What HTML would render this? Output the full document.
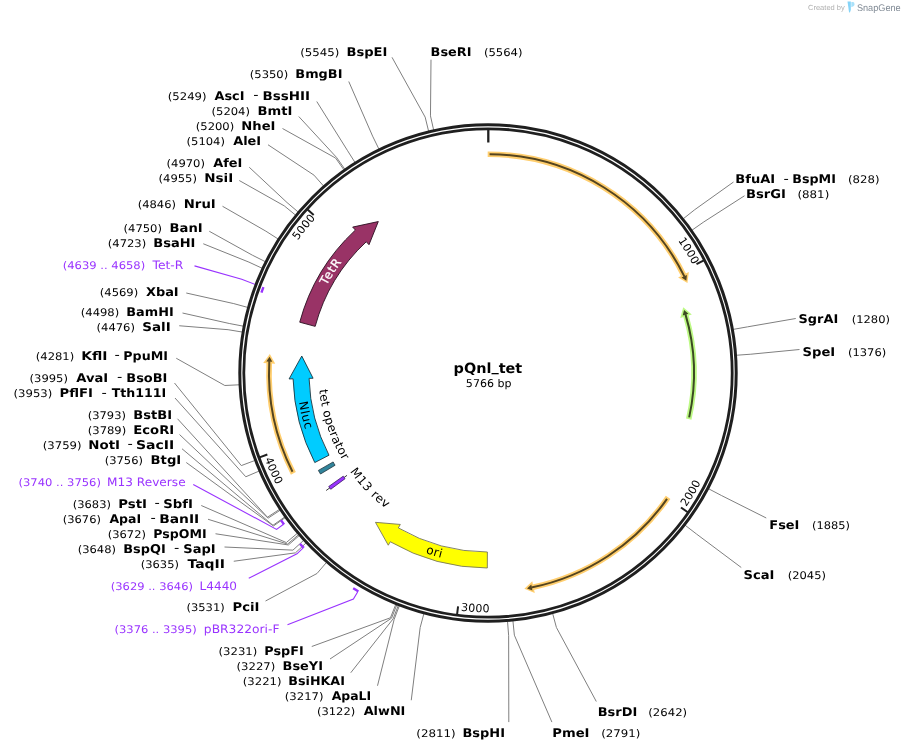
<!DOCTYPE html>
<html lang="en">
<head>
<meta charset="utf-8">
<title>pQnl_tet plasmid map</title>
<style>
html,body{margin:0;padding:0;background:#ffffff;}
body{width:905px;height:752px;overflow:hidden;}
svg{display:block;will-change:transform;text-rendering:geometricPrecision;}
text{white-space:pre;}
</style>
</head>
<body>
<svg width="905" height="752" viewBox="0 0 905 752" font-family='"DejaVu Sans", "Liberation Sans", sans-serif'>
<defs>
<path id="tk1000" d="M678.06,240.48 A231.7,231.7 0 0 1 692.93,264.89"/>
<path id="tk2000" d="M686.2,507.09 A239.3,239.3 0 0 0 700.78,482.5"/>
<path id="tk3000" d="M460.85,610.75 A239.3,239.3 0 0 0 489.39,612.3"/>
<path id="tk4000" d="M264.67,458.95 A239.3,239.3 0 0 0 276.51,484.97"/>
<path id="tk5000" d="M297.87,240.58 A231.7,231.7 0 0 1 315.62,218.18"/>
<path id="fl_tetr" d="M326.5,285.68 A183.6,183.6 0 0 1 341.56,262.25"/>
<path id="fl_nluc" d="M298.93,402.1 A191.3,191.3 0 0 0 305.26,429.57"/>
<path id="fl_ori" d="M425.48,553.05 A190.6,190.6 0 0 0 441.24,557.78"/>
<path id="fl_teto" d="M319.24,389.84 A169.6,169.6 0 0 0 342.7,460.48"/>
<path id="fl_m13" d="M349.93,471.49 A169.6,169.6 0 0 0 385.93,508.45"/>
</defs>
<g fill="none" stroke="#7f7f7f" stroke-width="1">
<polyline points="392,57.3 425.15,117.1 428.59,131.09"/>
<polyline points="348.75,81.5 372.6,136.11 378.91,149.06"/>
<polyline points="316.75,101.5 347.28,150.22 354.97,162.4"/>
<polyline points="298.75,116.5 336.53,157.39 344.81,169.17"/>
<polyline points="282.5,128.5 335.59,158.05 343.92,169.8"/>
<polyline points="268,144.75 313.98,175.14 323.49,185.95"/>
<polyline points="249.25,167.25 287.04,202.56 298.02,211.88"/>
<polyline points="239.25,180.5 284.28,205.87 295.42,215.01"/>
<polyline points="222.5,206.25 265.91,231.19 278.05,238.94"/>
<polyline points="209.25,231.25 252.32,255.15 265.2,261.6"/>
<polyline points="203.25,243.75 248.96,262.14 262.02,268.2"/>
<polyline points="186.25,293 233.8,303.62 247.69,307.41"/>
<polyline points="182.5,313 229.2,323.48 243.34,326.18"/>
<polyline points="179.25,325.75 228.08,329.7 242.29,332.06"/>
<polyline points="176.25,358.25 224.8,385.49 239.18,384.8"/>
<polyline points="174.5,383 241.3,465.59 254.79,460.53"/>
<polyline points="175,398 245.8,476.78 259.03,471.11"/>
<polyline points="177.5,418.75 267.47,517.22 279.52,509.34"/>
<polyline points="179.5,434.5 268.1,518.18 280.12,510.25"/>
<polyline points="182,448.75 272.97,525.29 284.72,516.97"/>
<polyline points="186.25,462.5 273.47,525.99 285.19,517.63"/>
<polyline points="201.25,505.5 286.3,542.56 297.32,533.29"/>
<polyline points="208,519.25 287.6,544.09 298.55,534.74"/>
<polyline points="215.5,533.75 288.35,544.96 299.26,535.57"/>
<polyline points="224.5,547 292.91,550.13 303.57,540.45"/>
<polyline points="233.75,561.25 295.44,552.87 305.96,543.04"/>
<polyline points="265.5,601 317.02,573.49 326.36,562.54"/>
<polyline points="311.75,646.5 390.45,617.78 395.79,604.4"/>
<polyline points="330,659 391.52,618.2 396.8,604.8"/>
<polyline points="350.75,672.75 393.13,618.83 398.31,605.39"/>
<polyline points="377.5,685.75 394.2,619.24 399.33,605.78"/>
<polyline points="411.25,700.25 420.15,627.61 423.86,613.7"/>
<polyline points="508.8,722.1 508.65,635.69 507.52,621.33"/>
<polyline points="431,59.7 430.47,115.86 433.61,129.91"/>
<polyline points="733.5,182 694.78,209.67 683.48,218.6"/>
<polyline points="744.5,195.75 703.86,221.88 692.06,230.14"/>
<polyline points="795.75,318.5 747.43,326.87 733.25,329.39"/>
<polyline points="799.5,349.5 750.83,354.21 736.47,355.24"/>
<polyline points="766.25,518 721.32,495.44 708.57,488.75"/>
<polyline points="741.25,567.5 696.55,534.06 685.15,525.26"/>
<polyline points="596.3,701.5 556.41,627.47 552.67,613.56"/>
<polyline points="551.9,722.1 514.37,635.18 512.93,620.85"/>
</g>
<g fill="none" stroke="#9933ff">
<polyline stroke-width="1.1" points="194.5,265.9 241.71,279.33 256.2,284.84"/>
<path stroke-width="2.4" d="M261.44,292.61 A240.4,240.4 0 0 1 263.45,287.15"/>
<polyline stroke-width="1.1" points="193.25,484.5 276.57,529.41 283.16,524.54"/>
<path stroke-width="2.4" d="M284.07,524.42 A254,254 0 0 1 280.94,520.12"/>
<polyline stroke-width="1.1" points="248.75,578.25 296.99,553.78 302.94,548.15"/>
<path stroke-width="2.4" d="M303.83,547.92 A254,254 0 0 1 300.02,543.82"/>
<polyline stroke-width="1.1" points="287.5,624.75 353.41,598.95 357.61,591.91"/>
<path stroke-width="2.4" d="M358.4,591.45 A254,254 0 0 1 353.15,588.25"/>
</g>
<g fill="#000">
<text x="300.29" y="55.7" font-size="10.5" textLength="39.13" lengthAdjust="spacingAndGlyphs">(5545)</text>
<text x="346.5" y="55.7" font-size="12" font-weight="bold" textLength="40.89" lengthAdjust="spacingAndGlyphs">BspEI</text>
<text x="249.76" y="78" font-size="10.5" textLength="38.5" lengthAdjust="spacingAndGlyphs">(5350)</text>
<text x="295.32" y="78" font-size="12" font-weight="bold" textLength="47.12" lengthAdjust="spacingAndGlyphs">BmgBI</text>
<text x="167.75" y="99.75" font-size="10.5" textLength="38.76" lengthAdjust="spacingAndGlyphs">(5249)</text>
<text x="214.45" y="99.75" font-size="12" font-weight="bold" textLength="29.99" lengthAdjust="spacingAndGlyphs">AscI</text>
<text x="253.32" y="99.25" font-size="13" textLength="5.3" lengthAdjust="spacingAndGlyphs">-</text>
<text x="262.52" y="99.75" font-size="12" font-weight="bold" textLength="47.47" lengthAdjust="spacingAndGlyphs">BssHII</text>
<text x="211.51" y="114.75" font-size="10.5" textLength="38.5" lengthAdjust="spacingAndGlyphs">(5204)</text>
<text x="257.54" y="114.75" font-size="12" font-weight="bold" textLength="34.91" lengthAdjust="spacingAndGlyphs">BmtI</text>
<text x="195.76" y="129.75" font-size="10.5" textLength="38.5" lengthAdjust="spacingAndGlyphs">(5200)</text>
<text x="241.3" y="129.75" font-size="12" font-weight="bold" textLength="34.15" lengthAdjust="spacingAndGlyphs">NheI</text>
<text x="186.51" y="144.75" font-size="10.5" textLength="38.5" lengthAdjust="spacingAndGlyphs">(5104)</text>
<text x="233.2" y="144.75" font-size="12" font-weight="bold" textLength="27.99" lengthAdjust="spacingAndGlyphs">AleI</text>
<text x="166.51" y="166.75" font-size="10.5" textLength="38.5" lengthAdjust="spacingAndGlyphs">(4970)</text>
<text x="213.2" y="166.75" font-size="12" font-weight="bold" textLength="29.25" lengthAdjust="spacingAndGlyphs">AfeI</text>
<text x="158.51" y="181.75" font-size="10.5" textLength="38.5" lengthAdjust="spacingAndGlyphs">(4955)</text>
<text x="204.26" y="181.75" font-size="12" font-weight="bold" textLength="28.99" lengthAdjust="spacingAndGlyphs">NsiI</text>
<text x="137.76" y="208" font-size="10.5" textLength="38.24" lengthAdjust="spacingAndGlyphs">(4846)</text>
<text x="183.79" y="208" font-size="12" font-weight="bold" textLength="31.95" lengthAdjust="spacingAndGlyphs">NruI</text>
<text x="123.51" y="231.75" font-size="10.5" textLength="38.5" lengthAdjust="spacingAndGlyphs">(4750)</text>
<text x="169.54" y="231.75" font-size="12" font-weight="bold" textLength="33.16" lengthAdjust="spacingAndGlyphs">BanI</text>
<text x="107.76" y="247" font-size="10.5" textLength="38.5" lengthAdjust="spacingAndGlyphs">(4723)</text>
<text x="153.31" y="247" font-size="12" font-weight="bold" textLength="42.13" lengthAdjust="spacingAndGlyphs">BsaHI</text>
<text x="99.76" y="295.5" font-size="10.5" textLength="38.5" lengthAdjust="spacingAndGlyphs">(4569)</text>
<text x="145.98" y="295.5" font-size="12" font-weight="bold" textLength="32.71" lengthAdjust="spacingAndGlyphs">XbaI</text>
<text x="80.76" y="315.5" font-size="10.5" textLength="38.5" lengthAdjust="spacingAndGlyphs">(4498)</text>
<text x="126.32" y="315.5" font-size="12" font-weight="bold" textLength="47.36" lengthAdjust="spacingAndGlyphs">BamHI</text>
<text x="96.51" y="330.75" font-size="10.5" textLength="38.5" lengthAdjust="spacingAndGlyphs">(4476)</text>
<text x="142.29" y="330.75" font-size="12" font-weight="bold" textLength="28.46" lengthAdjust="spacingAndGlyphs">SalI</text>
<text x="35.76" y="359.5" font-size="10.5" textLength="38.5" lengthAdjust="spacingAndGlyphs">(4281)</text>
<text x="81.22" y="359.5" font-size="12" font-weight="bold" textLength="26.31" lengthAdjust="spacingAndGlyphs">KflI</text>
<text x="114.52" y="359" font-size="13" textLength="5.3" lengthAdjust="spacingAndGlyphs">-</text>
<text x="123.34" y="359.5" font-size="12" font-weight="bold" textLength="44.6" lengthAdjust="spacingAndGlyphs">PpuMI</text>
<text x="29.51" y="381.75" font-size="10.5" textLength="38.5" lengthAdjust="spacingAndGlyphs">(3995)</text>
<text x="76.2" y="381.75" font-size="12" font-weight="bold" textLength="32" lengthAdjust="spacingAndGlyphs">AvaI</text>
<text x="117.02" y="381.25" font-size="13" textLength="5.3" lengthAdjust="spacingAndGlyphs">-</text>
<text x="126.31" y="381.75" font-size="12" font-weight="bold" textLength="41.12" lengthAdjust="spacingAndGlyphs">BsoBI</text>
<text x="13.5" y="397" font-size="10.5" textLength="38.76" lengthAdjust="spacingAndGlyphs">(3953)</text>
<text x="59.54" y="397" font-size="12" font-weight="bold" textLength="33.43" lengthAdjust="spacingAndGlyphs">PflFI</text>
<text x="101.52" y="396.5" font-size="13" textLength="5.3" lengthAdjust="spacingAndGlyphs">-</text>
<text x="111.7" y="397" font-size="12" font-weight="bold" textLength="54.49" lengthAdjust="spacingAndGlyphs">Tth111I</text>
<text x="87.76" y="418.75" font-size="10.5" textLength="38.24" lengthAdjust="spacingAndGlyphs">(3793)</text>
<text x="133.31" y="418.75" font-size="12" font-weight="bold" textLength="38.68" lengthAdjust="spacingAndGlyphs">BstBI</text>
<text x="87.76" y="433.75" font-size="10.5" textLength="38.5" lengthAdjust="spacingAndGlyphs">(3789)</text>
<text x="133.29" y="433.75" font-size="12" font-weight="bold" textLength="40.93" lengthAdjust="spacingAndGlyphs">EcoRI</text>
<text x="42.75" y="448.75" font-size="10.5" textLength="38.76" lengthAdjust="spacingAndGlyphs">(3759)</text>
<text x="88.27" y="448.75" font-size="12" font-weight="bold" textLength="31.74" lengthAdjust="spacingAndGlyphs">NotI</text>
<text x="127.42" y="448.25" font-size="13" textLength="5.3" lengthAdjust="spacingAndGlyphs">-</text>
<text x="136.01" y="448.75" font-size="12" font-weight="bold" textLength="38.32" lengthAdjust="spacingAndGlyphs">SacII</text>
<text x="104.76" y="463.75" font-size="10.5" textLength="38.24" lengthAdjust="spacingAndGlyphs">(3756)</text>
<text x="150.54" y="463.75" font-size="12" font-weight="bold" textLength="30.71" lengthAdjust="spacingAndGlyphs">BtgI</text>
<text x="72.76" y="507.5" font-size="10.5" textLength="38.24" lengthAdjust="spacingAndGlyphs">(3683)</text>
<text x="118.28" y="507.5" font-size="12" font-weight="bold" textLength="28.72" lengthAdjust="spacingAndGlyphs">PstI</text>
<text x="154.42" y="507" font-size="13" textLength="5.3" lengthAdjust="spacingAndGlyphs">-</text>
<text x="163.31" y="507.5" font-size="12" font-weight="bold" textLength="29.67" lengthAdjust="spacingAndGlyphs">SbfI</text>
<text x="62.76" y="522.5" font-size="10.5" textLength="38.24" lengthAdjust="spacingAndGlyphs">(3676)</text>
<text x="109.45" y="522.5" font-size="12" font-weight="bold" textLength="31.69" lengthAdjust="spacingAndGlyphs">ApaI</text>
<text x="150.62" y="522" font-size="13" textLength="5.3" lengthAdjust="spacingAndGlyphs">-</text>
<text x="159.23" y="522.5" font-size="12" font-weight="bold" textLength="40.06" lengthAdjust="spacingAndGlyphs">BanII</text>
<text x="107.76" y="537.5" font-size="10.5" textLength="38.24" lengthAdjust="spacingAndGlyphs">(3672)</text>
<text x="153.35" y="537.5" font-size="12" font-weight="bold" textLength="53.33" lengthAdjust="spacingAndGlyphs">PspOMI</text>
<text x="77.76" y="552.5" font-size="10.5" textLength="38.24" lengthAdjust="spacingAndGlyphs">(3648)</text>
<text x="123.32" y="552.5" font-size="12" font-weight="bold" textLength="42.35" lengthAdjust="spacingAndGlyphs">BspQI</text>
<text x="174.02" y="552" font-size="13" textLength="5.3" lengthAdjust="spacingAndGlyphs">-</text>
<text x="183.33" y="552.5" font-size="12" font-weight="bold" textLength="32.36" lengthAdjust="spacingAndGlyphs">SapI</text>
<text x="140.76" y="567.5" font-size="10.5" textLength="38.24" lengthAdjust="spacingAndGlyphs">(3635)</text>
<text x="187.44" y="567.5" font-size="12" font-weight="bold" textLength="37.6" lengthAdjust="spacingAndGlyphs">TaqII</text>
<text x="186.51" y="611.4" font-size="10.5" textLength="38.24" lengthAdjust="spacingAndGlyphs">(3531)</text>
<text x="232.54" y="611.4" font-size="12" font-weight="bold" textLength="26.96" lengthAdjust="spacingAndGlyphs">PciI</text>
<text x="218.5" y="655.25" font-size="10.5" textLength="38.76" lengthAdjust="spacingAndGlyphs">(3231)</text>
<text x="264.33" y="655.25" font-size="12" font-weight="bold" textLength="39.37" lengthAdjust="spacingAndGlyphs">PspFI</text>
<text x="236.5" y="670.25" font-size="10.5" textLength="38.76" lengthAdjust="spacingAndGlyphs">(3227)</text>
<text x="282.57" y="670.25" font-size="12" font-weight="bold" textLength="40.4" lengthAdjust="spacingAndGlyphs">BseYI</text>
<text x="242.75" y="685.25" font-size="10.5" textLength="38.76" lengthAdjust="spacingAndGlyphs">(3221)</text>
<text x="288.34" y="685.25" font-size="12" font-weight="bold" textLength="56.57" lengthAdjust="spacingAndGlyphs">BsiHKAI</text>
<text x="284.75" y="700.25" font-size="10.5" textLength="38.76" lengthAdjust="spacingAndGlyphs">(3217)</text>
<text x="331.7" y="700.25" font-size="12" font-weight="bold" textLength="39.48" lengthAdjust="spacingAndGlyphs">ApaLI</text>
<text x="317.01" y="715.25" font-size="10.5" textLength="38.24" lengthAdjust="spacingAndGlyphs">(3122)</text>
<text x="363.7" y="715.25" font-size="12" font-weight="bold" textLength="41.72" lengthAdjust="spacingAndGlyphs">AlwNI</text>
<text x="416.28" y="737.4" font-size="10.5" textLength="39.45" lengthAdjust="spacingAndGlyphs">(2811)</text>
<text x="462.51" y="737.4" font-size="12" font-weight="bold" textLength="42.52" lengthAdjust="spacingAndGlyphs">BspHI</text>
<text x="430.62" y="55.7" font-size="12" font-weight="bold" textLength="40.9" lengthAdjust="spacingAndGlyphs">BseRI</text>
<text x="483.9" y="55.7" font-size="10.5" textLength="38.61" lengthAdjust="spacingAndGlyphs">(5564)</text>
<text x="735.3" y="183" font-size="12" font-weight="bold" textLength="39.91" lengthAdjust="spacingAndGlyphs">BfuAI</text>
<text x="783.42" y="182.5" font-size="13" textLength="5.3" lengthAdjust="spacingAndGlyphs">-</text>
<text x="792.34" y="183" font-size="12" font-weight="bold" textLength="43.61" lengthAdjust="spacingAndGlyphs">BspMI</text>
<text x="848" y="183" font-size="10.5" textLength="31.49" lengthAdjust="spacingAndGlyphs">(828)</text>
<text x="746.05" y="198" font-size="12" font-weight="bold" textLength="39.93" lengthAdjust="spacingAndGlyphs">BsrGI</text>
<text x="797.49" y="198" font-size="10.5" textLength="31.76" lengthAdjust="spacingAndGlyphs">(881)</text>
<text x="798.59" y="323" font-size="12" font-weight="bold" textLength="39.6" lengthAdjust="spacingAndGlyphs">SgrAI</text>
<text x="851.76" y="323" font-size="10.5" textLength="38.24" lengthAdjust="spacingAndGlyphs">(1280)</text>
<text x="802.57" y="355.75" font-size="12" font-weight="bold" textLength="32.68" lengthAdjust="spacingAndGlyphs">SpeI</text>
<text x="848.01" y="355.75" font-size="10.5" textLength="38.24" lengthAdjust="spacingAndGlyphs">(1376)</text>
<text x="769.31" y="528.75" font-size="12" font-weight="bold" textLength="30.11" lengthAdjust="spacingAndGlyphs">FseI</text>
<text x="812.02" y="528.75" font-size="10.5" textLength="37.97" lengthAdjust="spacingAndGlyphs">(1885)</text>
<text x="743.57" y="578.75" font-size="12" font-weight="bold" textLength="30.9" lengthAdjust="spacingAndGlyphs">ScaI</text>
<text x="787.76" y="578.75" font-size="10.5" textLength="38.24" lengthAdjust="spacingAndGlyphs">(2045)</text>
<text x="597.71" y="715.8" font-size="12" font-weight="bold" textLength="39.51" lengthAdjust="spacingAndGlyphs">BsrDI</text>
<text x="648.3" y="715.8" font-size="10.5" textLength="38.82" lengthAdjust="spacingAndGlyphs">(2642)</text>
<text x="552.29" y="737.4" font-size="12" font-weight="bold" textLength="37.22" lengthAdjust="spacingAndGlyphs">PmeI</text>
<text x="601.19" y="737.4" font-size="10.5" textLength="39.24" lengthAdjust="spacingAndGlyphs">(2791)</text>
<text x="62.76" y="268.75" font-size="10.5" fill="#9933ff" textLength="82.46" lengthAdjust="spacingAndGlyphs">(4639 .. 4658)</text>
<text x="152.55" y="268.75" font-size="11.5" fill="#9933ff" textLength="30.82" lengthAdjust="spacingAndGlyphs">Tet-R</text>
<text x="18.51" y="485.5" font-size="10.5" fill="#9933ff" textLength="82.46" lengthAdjust="spacingAndGlyphs">(3740 .. 3756)</text>
<text x="107.09" y="485.5" font-size="11.5" fill="#9933ff" textLength="78.53" lengthAdjust="spacingAndGlyphs">M13 Reverse</text>
<text x="110.76" y="589.5" font-size="10.5" fill="#9933ff" textLength="82.21" lengthAdjust="spacingAndGlyphs">(3629 .. 3646)</text>
<text x="199.59" y="589.5" font-size="11.5" fill="#9933ff" textLength="37.47" lengthAdjust="spacingAndGlyphs">L4440</text>
<text x="114.51" y="633.25" font-size="10.5" fill="#9933ff" textLength="82.21" lengthAdjust="spacingAndGlyphs">(3376 .. 3395)</text>
<text x="203.88" y="633.25" font-size="11.5" fill="#9933ff" textLength="75.57" lengthAdjust="spacingAndGlyphs">pBR322ori-F</text>
</g>
<circle cx="488" cy="373" r="248.2" fill="none" stroke="#1f1f1f" stroke-width="3"/>
<circle cx="488" cy="373" r="244.2" fill="none" stroke="#1f1f1f" stroke-width="2.8"/>
<line x1="488.3" y1="129.5" x2="488.3" y2="142.5" stroke="#1f1f1f" stroke-width="2.3"/>
<line x1="703.86" y1="260.32" x2="696.5" y2="264.16" stroke="#1f1f1f" stroke-width="2"/>
<line x1="687.78" y1="512.21" x2="680.97" y2="507.47" stroke="#1f1f1f" stroke-width="2"/>
<line x1="457.04" y1="614.52" x2="458.09" y2="606.29" stroke="#1f1f1f" stroke-width="2"/>
<line x1="259.57" y1="457.32" x2="267.35" y2="454.45" stroke="#1f1f1f" stroke-width="2"/>
<line x1="307.54" y1="209.52" x2="313.69" y2="215.09" stroke="#1f1f1f" stroke-width="2"/>
<text font-size="11"><textPath href="#tk1000" textLength="28.6" lengthAdjust="spacing">1000</textPath></text>
<text font-size="11"><textPath href="#tk2000" textLength="28.6" lengthAdjust="spacing">2000</textPath></text>
<text font-size="11"><textPath href="#tk3000" textLength="28.6" lengthAdjust="spacing">3000</textPath></text>
<text font-size="11"><textPath href="#tk4000" textLength="28.6" lengthAdjust="spacing">4000</textPath></text>
<text font-size="11"><textPath href="#tk5000" textLength="28.6" lengthAdjust="spacing">5000</textPath></text>
<path d="M487.69,154.2 A218.8,218.8 0 0 1 683.69,275.13" fill="none" stroke="#ffce6e" stroke-width="5.6"/>
<polygon points="687.47,283.08 688.83,271.99 678.11,277.38" fill="#ffce6e"/>
<path d="M489.59,154.21 A218.8,218.8 0 0 1 684.45,276.66" fill="none" stroke="#54441f" stroke-width="2"/>
<polygon points="686.34,280.63 686.92,274.88 681.54,277.53" fill="#54441f"/>
<path d="M688.75,419.2 A206,206 0 0 0 685.88,315.75" fill="none" stroke="#bdf985" stroke-width="5.6"/>
<polygon points="683.26,307.35 691.79,314.58 680.26,317.88" fill="#bdf985"/>
<path d="M689.17,417.35 A206,206 0 0 0 685.41,314.12" fill="none" stroke="#3b4a22" stroke-width="2"/>
<polygon points="684.1,309.91 688.42,313.75 682.67,315.45" fill="#3b4a22"/>
<path d="M668.12,497.4 A218.9,218.9 0 0 1 533.02,587.22" fill="none" stroke="#ffce6e" stroke-width="5.6"/>
<polygon points="524.38,588.86 534.76,592.99 532.26,581.25" fill="#ffce6e"/>
<path d="M667.03,498.95 A218.9,218.9 0 0 1 531.36,587.56" fill="none" stroke="#54441f" stroke-width="2"/>
<polygon points="527.04,588.39 532.45,590.4 531.25,584.52" fill="#54441f"/>
<path d="M293.36,473.38 A219,219 0 0 1 269.23,362.87" fill="none" stroke="#ffce6e" stroke-width="5.6"/>
<polygon points="269.82,354.09 263.22,363.1 275.21,363.63" fill="#ffce6e"/>
<path d="M292.49,471.68 A219,219 0 0 1 269.32,361.17" fill="none" stroke="#54441f" stroke-width="2"/>
<polygon points="269.6,356.78 266.3,361.51 272.29,361.82" fill="#54441f"/>
<path d="M315.18,326.37 A179,179 0 0 1 366.28,241.76 L369,244.69 L378.3,221.56 L352.68,227.09 L355.4,230.03 A195,195 0 0 0 299.73,322.2 Z" fill="#993366" stroke="#2a1020" stroke-width="0.9" stroke-linejoin="miter"/>
<path d="M328.99,455.21 A179,179 0 0 1 309.08,378.36 L313.08,378.24 L301.77,356.02 L289.09,378.95 L293.09,378.83 A195,195 0 0 0 314.78,462.56 Z" fill="#00ccff" stroke="#1b3640" stroke-width="0.9" stroke-linejoin="miter"/>
<path d="M487.38,552 A179,179 0 0 1 398.3,527.9 L400.3,524.44 L375.46,522.34 L388.27,545.21 L390.28,541.75 A195,195 0 0 0 487.32,568 Z" fill="#ffff00" stroke="#77775a" stroke-width="0.9" stroke-linejoin="miter"/>
<path d="M335.07,465.25 A178.6,178.6 0 0 1 333.13,461.95 L318.38,470.42 A195.6,195.6 0 0 0 320.51,474.03 Z" fill="#31849b" stroke="#20343c" stroke-width="0.8"/>
<line x1="347.03" y1="475.34" x2="326.16" y2="490.5" stroke="#222" stroke-width="0.9"/>
<path d="M345.04,478.71 A177.8,177.8 0 0 1 343.21,476.2 L328.72,486.53 A195.6,195.6 0 0 0 330.72,489.29 Z" fill="#9933ff" stroke="#3c1a66" stroke-width="0.8"/>
<text font-size="12" fill="#ffffff" stroke="#ffffff" stroke-width="0.25"><textPath href="#fl_tetr" textLength="27.88" lengthAdjust="spacing">TetR</textPath></text>
<text font-size="12"><textPath href="#fl_nluc" textLength="28.21" lengthAdjust="spacing">Nluc</textPath></text>
<text font-size="12"><textPath href="#fl_ori" textLength="16.47" lengthAdjust="spacing">ori</textPath></text>
<text font-size="12"><textPath href="#fl_teto" textLength="75.04" lengthAdjust="spacing">tet operator</textPath></text>
<text font-size="12"><textPath href="#fl_m13" textLength="51.8" lengthAdjust="spacing">M13 rev</textPath></text>
<text x="453.61" y="372.7" font-size="14" font-weight="bold" textLength="68.66" lengthAdjust="spacingAndGlyphs" dy="0 0 0 0 -1.3 1.3 0 0">pQnl_tet</text>
<text x="465.87" y="386.5" font-size="10.7" textLength="45.61" lengthAdjust="spacingAndGlyphs">5766 bp</text>
<g font-family="&quot;Liberation Sans&quot;, sans-serif">
<text x="808" y="10.4" font-size="7.4" fill="#b0b0b0" textLength="36.8" lengthAdjust="spacingAndGlyphs">Created by</text>
<path d="M847.5,1.4 L850.8,1.4 L850.8,10.1 L849.8,12.7 L849,12 Z" fill="#86d4f8"/>
<path d="M851.3,2.1 L853.3,2.1 Q854.5,2.7 854.5,4.2 L854.5,5 Q854,6.5 851.3,7.3 Z" fill="#a9e1fa"/>
<text x="856.9" y="10.8" font-size="9.6" fill="#808a95" textLength="43.8" lengthAdjust="spacingAndGlyphs">SnapGene</text>
</g>
</svg>
</body>
</html>
